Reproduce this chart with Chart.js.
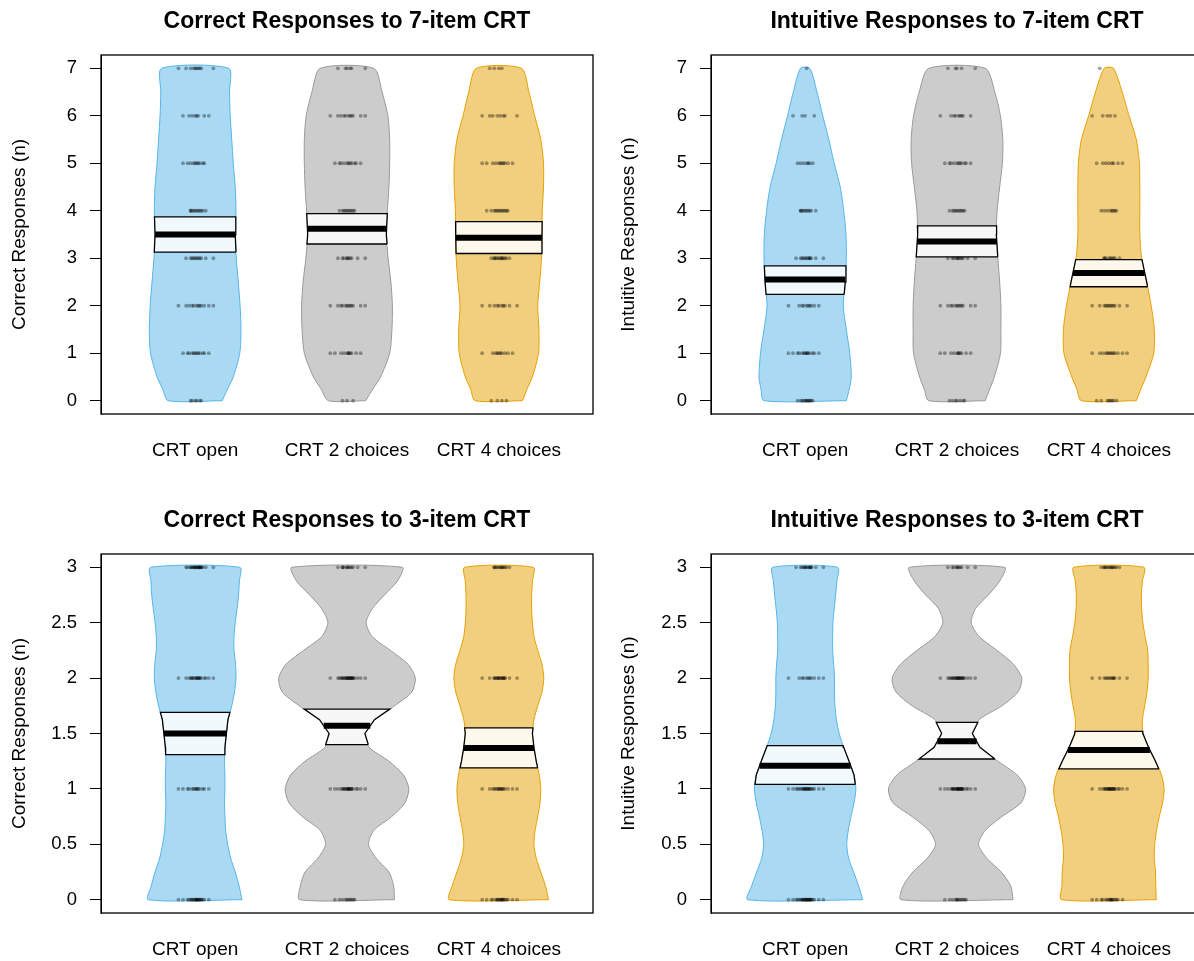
<!DOCTYPE html>
<html>
<head>
<meta charset="utf-8">
<script src="https://cdn.jsdelivr.net/npm/chart.js@4.4.1/dist/chart.umd.min.js"></script>
<style>
  html, body { margin: 0; padding: 0; background: #fff; width: 1194px; height: 961px; overflow: hidden; }
  canvas { position: absolute; }
</style>
</head>
<body>
<canvas id="cr7" width="597" height="480" style="left:0;top:0"></canvas>
<canvas id="ir7" width="610" height="480" style="left:597px;top:0"></canvas>
<canvas id="cr3" width="597" height="480" style="left:0;top:499px"></canvas>
<canvas id="ir3" width="610" height="480" style="left:597px;top:499px"></canvas>
<script>
// Groups and axes
const GROUPS = ['CRT open', 'CRT 2 choices', 'CRT 4 choices'];
const TICKS_7 = [0, 1, 2, 3, 4, 5, 6, 7];
const TICKS_3 = [0, 0.5, 1, 1.5, 2, 2.5, 3];
const LEVELS_7 = [0, 1, 2, 3, 4, 5, 6, 7];
const LEVELS_3 = [0, 1, 2, 3];

// y positions where the bean half-widths were read
const GRID_7 = [0, 0.25, 0.5, 1, 1.5, 2, 2.5, 3, 3.5, 4, 4.5, 5, 5.5, 6, 6.5, 7];
const GRID_3 = [0, 0.125, 0.25, 0.375, 0.5, 0.625, 0.75, 0.875, 1, 1.125, 1.25, 1.375, 1.5,
  1.625, 1.75, 1.875, 2, 2.125, 2.25, 2.375, 2.5, 2.625, 2.75, 2.875, 3];

// Correct responses, 7-item CRT
const CR7_WIDTHS = [
  [0.178, 0.214, 0.251, 0.294, 0.302, 0.296, 0.284, 0.271, 0.264, 0.269, 0.264, 0.251, 0.241, 0.231, 0.226, 0.221],
  [0.123, 0.171, 0.221, 0.281, 0.296, 0.299, 0.289, 0.271, 0.259, 0.266, 0.276, 0.281, 0.281, 0.269, 0.231, 0.176],
  [0.156, 0.186, 0.221, 0.261, 0.264, 0.256, 0.269, 0.281, 0.284, 0.286, 0.294, 0.294, 0.276, 0.236, 0.198, 0.148]
];
const CR7_MEAN = [3.50, 3.62, 3.43];
const CR7_LO = [3.13, 3.30, 3.10];
const CR7_HI = [3.87, 3.94, 3.77];
const CR7_COUNTS = [[6, 12, 12, 11, 11, 10, 8, 10], [3, 11, 12, 10, 10, 11, 11, 6], [4, 10, 10, 13, 12, 11, 8, 4]];

// Intuitive responses, 7-item CRT
const IR7_WIDTHS = [
  [0.271, 0.291, 0.304, 0.294, 0.271, 0.251, 0.264, 0.271, 0.269, 0.254, 0.231, 0.191, 0.156, 0.116, 0.078, 0.030],
  [0.186, 0.216, 0.246, 0.286, 0.289, 0.289, 0.281, 0.269, 0.259, 0.264, 0.281, 0.299, 0.302, 0.286, 0.249, 0.186],
  [0.181, 0.211, 0.244, 0.296, 0.299, 0.279, 0.249, 0.216, 0.204, 0.204, 0.204, 0.201, 0.181, 0.133, 0.088, 0.030]
];
const IR7_MEAN = [2.55, 3.35, 2.69];
const IR7_LO = [2.24, 3.03, 2.40];
const IR7_HI = [2.84, 3.68, 2.97];
const IR7_COUNTS = [[12, 14, 10, 12, 10, 7, 4, 1], [7, 11, 12, 11, 10, 11, 9, 5], [8, 13, 12, 9, 8, 8, 5, 1]];

// Correct responses, 3-item CRT
const CR3_WIDTHS = [
  [0.309, 0.289, 0.264, 0.234, 0.214, 0.201, 0.196, 0.193, 0.196, 0.196, 0.193, 0.196, 0.206,
   0.216, 0.241, 0.259, 0.269, 0.266, 0.256, 0.256, 0.264, 0.276, 0.286, 0.291, 0.294],
  [0.312, 0.307, 0.276, 0.191, 0.141, 0.176, 0.294, 0.382, 0.407, 0.372, 0.276, 0.146, 0.118,
   0.181, 0.314, 0.427, 0.450, 0.402, 0.286, 0.166, 0.126, 0.166, 0.246, 0.332, 0.364],
  [0.327, 0.307, 0.276, 0.246, 0.231, 0.239, 0.256, 0.271, 0.276, 0.266, 0.246, 0.231, 0.221,
   0.231, 0.256, 0.284, 0.296, 0.284, 0.256, 0.231, 0.221, 0.216, 0.216, 0.221, 0.226]
];
const CR3_MEAN = [1.50, 1.57, 1.37];
const CR3_LO = [1.31, 1.40, 1.19];
const CR3_HI = [1.69, 1.72, 1.55];
const CR3_COUNTS = [[22, 14, 19, 21], [10, 22, 25, 12], [19, 16, 18, 12]];

// Intuitive responses, 3-item CRT
const IR3_WIDTHS = [
  [0.379, 0.352, 0.319, 0.286, 0.274, 0.284, 0.302, 0.322, 0.334, 0.322, 0.289, 0.254, 0.224,
   0.206, 0.196, 0.193, 0.193, 0.188, 0.181, 0.181, 0.183, 0.191, 0.201, 0.209, 0.214],
  [0.369, 0.354, 0.291, 0.196, 0.141, 0.186, 0.296, 0.422, 0.452, 0.397, 0.269, 0.151, 0.101,
   0.146, 0.296, 0.402, 0.427, 0.372, 0.264, 0.146, 0.093, 0.121, 0.206, 0.281, 0.314],
  [0.312, 0.309, 0.307, 0.299, 0.302, 0.314, 0.332, 0.354, 0.364, 0.347, 0.307, 0.261, 0.224,
   0.221, 0.236, 0.251, 0.259, 0.259, 0.256, 0.239, 0.224, 0.216, 0.214, 0.221, 0.231]
];
const IR3_MEAN = [1.21, 1.43, 1.35];
const IR3_LO = [1.04, 1.27, 1.18];
const IR3_HI = [1.39, 1.60, 1.52];
const IR3_COUNTS = [[26, 22, 11, 14], [12, 26, 24, 10], [16, 22, 13, 13]];

// fixed horizontal jitter pattern for the raw points (tight core, a few strays)
const JITTER = [0.01, -0.02, 0.03, 0.00, 0.04, -0.03, 0.02, -0.01, 0.05, -0.05, 0.01, 0.03, -0.08, 0.00, 0.06,
  -0.02, 0.02, 0.09, -0.04, 0.01, -0.11, 0.04, -0.01, 0.03, 0.12, -0.06, 0.00, 0.02, -0.03, 0.07];

const FILLS = ['rgba(86, 180, 233, 0.5)', 'rgba(153, 153, 153, 0.5)', 'rgba(230, 159, 0, 0.5)'];
const LINES = ['#56B4E9', '#999999', '#E69F00'];
const FONT = '"Liberation Sans", Arial, Helvetica, sans-serif';

/**
 * Half-width of a bean at height y (linear between read points)
 */
function widthAt(grid, ws, y) {
  for (let i = 1; i < grid.length; i++) {
    if (y <= grid[i]) {
      const t = (y - grid[i - 1]) / (grid[i] - grid[i - 1]);
      return ws[i - 1] + t * (ws[i] - ws[i - 1]);
    }
  }
  return ws[ws.length - 1];
}

/**
 * Closed outline of a bean between lo and hi
 */
function outline(pos, grid, ws, lo, hi) {
  const ys = [lo, ...grid.filter(y => y > lo && y < hi), hi];
  const right = ys.map(y => ({ x: pos + widthAt(grid, ws, y), y }));
  const left = ys.slice().reverse().map(y => ({ x: pos - widthAt(grid, ws, y), y }));
  return right.concat(left, [right[0]]);
}

// plot box round the chart area
const framePlugin = {
  id: 'frame',
  afterDatasetsDraw(chart) {
    const { ctx, chartArea: a } = chart;
    ctx.save();
    ctx.strokeStyle = '#000';
    ctx.lineWidth = 1.3;
    ctx.strokeRect(a.left, a.top, a.right - a.left, a.bottom - a.top);
    ctx.restore();
  }
};

function makePirate(id, p) {
  const datasets = [];
  p.widths.forEach((ws, g) => {
    const pos = g + 1;
    const top = p.grid[p.grid.length - 1];

    datasets.push({
      data: outline(pos, p.grid, ws, p.grid[0], top),
      showLine: true,
      fill: 'shape',
      backgroundColor: FILLS[g],
      borderColor: LINES[g],
      borderWidth: 1,
      pointRadius: 0,
      tension: 0.25,
      order: 4
    });

    const dots = [];
    p.levels.forEach((lv, k) => {
      for (let j = 0; j < p.counts[g][k]; j++) {
        dots.push({ x: pos + JITTER[(j + 7 * k + 3 * g) % JITTER.length], y: lv });
      }
    });
    datasets.push({
      data: dots,
      backgroundColor: 'rgba(0, 0, 0, 0.35)',
      borderWidth: 0,
      pointRadius: 1.9,
      order: 3
    });

    datasets.push({
      data: outline(pos, p.grid, ws, p.lo[g], p.hi[g]),
      showLine: true,
      fill: 'shape',
      backgroundColor: 'rgba(255, 255, 255, 0.85)',
      borderColor: '#000',
      borderWidth: 1.3,
      pointRadius: 0,
      tension: 0,
      order: 2
    });

    const w = widthAt(p.grid, ws, p.mean[g]);
    datasets.push({
      data: [{ x: pos - w, y: p.mean[g] }, { x: pos + w, y: p.mean[g] }],
      showLine: true,
      borderColor: '#000',
      borderWidth: 6,
      borderCapStyle: 'butt',
      pointRadius: 0,
      order: 1
    });
  });

  return new Chart(document.getElementById(id).getContext('2d'), {
    type: 'scatter',
    data: { datasets },
    options: {
      responsive: false,
      animation: false,
      events: [],
      layout: { padding: { left: 0, right: 2, top: 0, bottom: 0 } },
      plugins: {
        legend: { display: false },
        tooltip: { enabled: false },
        title: {
          display: true,
          text: p.title,
          fullSize: false,
          color: '#000',
          font: { family: FONT, size: 23, weight: 'bold' },
          padding: { top: 8, bottom: 19.4 }
        }
      },
      scales: {
        x: {
          type: 'linear',
          bounds: 'data',
          min: 0.38,
          max: 3.62,
          grid: { display: false, drawTicks: false },
          border: { display: false },
          afterBuildTicks: (s) => { s.ticks = [1, 2, 3].map(v => ({ value: v })); },
          afterFit: (s) => { s.height = 66; },
          ticks: {
            autoSkip: false,
            maxRotation: 0,
            padding: 25,
            color: '#000',
            font: { family: FONT, size: 19 },
            callback: (v) => GROUPS[v - 1]
          }
        },
        y: {
          type: 'linear',
          bounds: 'data',
          min: p.min,
          max: p.max,
          afterBuildTicks: (s) => { s.ticks = p.ticks.map(v => ({ value: v })); },
          afterFit: (s) => { s.width = p.left; },
          grid: { drawOnChartArea: false, drawTicks: true, tickLength: 11, color: '#000' },
          border: { display: true, color: '#000' },
          ticks: {
            padding: 13,
            color: '#000',
            font: { family: FONT, size: 18.5 },
            callback: (v) => String(v)
          },
          title: {
            display: true,
            text: p.yTitle,
            color: '#000',
            font: { family: FONT, size: 19 },
            padding: { top: p.titleGap, bottom: 0 }
          }
        }
      }
    },
    plugins: [framePlugin]
  });
}

makePirate('cr7', {
  title: 'Correct Responses to 7-item CRT', yTitle: 'Correct Responses (n)',
  grid: GRID_7, widths: CR7_WIDTHS, mean: CR7_MEAN, lo: CR7_LO, hi: CR7_HI,
  counts: CR7_COUNTS, levels: LEVELS_7, ticks: TICKS_7, min: -0.28, max: 7.28, left: 101, titleGap: 8.6
});
makePirate('ir7', {
  title: 'Intuitive Responses to 7-item CRT', yTitle: 'Intuitive Responses (n)',
  grid: GRID_7, widths: IR7_WIDTHS, mean: IR7_MEAN, lo: IR7_LO, hi: IR7_HI,
  counts: IR7_COUNTS, levels: LEVELS_7, ticks: TICKS_7, min: -0.28, max: 7.28, left: 114, titleGap: 20.6
});
makePirate('cr3', {
  title: 'Correct Responses to 3-item CRT', yTitle: 'Correct Responses (n)',
  grid: GRID_3, widths: CR3_WIDTHS, mean: CR3_MEAN, lo: CR3_LO, hi: CR3_HI,
  counts: CR3_COUNTS, levels: LEVELS_3, ticks: TICKS_3, min: -0.12, max: 3.12, left: 101, titleGap: 8.6
});
makePirate('ir3', {
  title: 'Intuitive Responses to 3-item CRT', yTitle: 'Intuitive Responses (n)',
  grid: GRID_3, widths: IR3_WIDTHS, mean: IR3_MEAN, lo: IR3_LO, hi: IR3_HI,
  counts: IR3_COUNTS, levels: LEVELS_3, ticks: TICKS_3, min: -0.12, max: 3.12, left: 114, titleGap: 20.6
});
</script>
</body>
</html>
